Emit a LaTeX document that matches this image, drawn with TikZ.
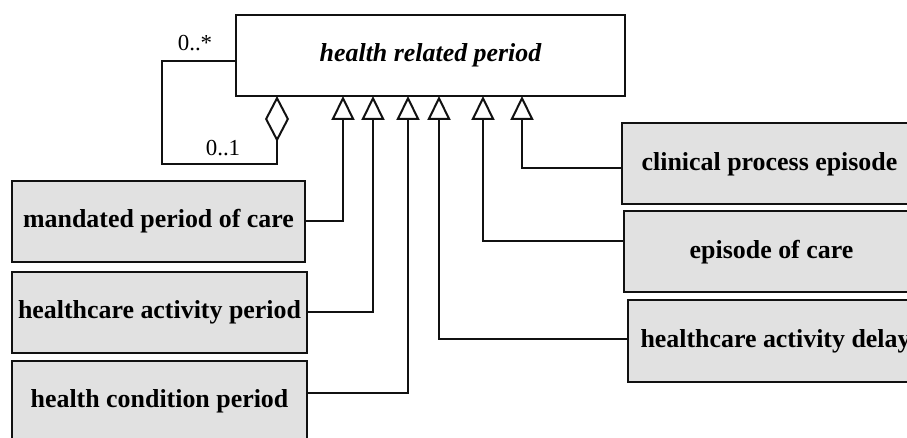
\documentclass[tikz,border=0pt]{standalone}
\usepackage{fontspec}
\setmainfont{Liberation Serif}
\usetikzlibrary{arrows.meta}
\definecolor{classBgColor}{HTML}{E1E1E1}
\definecolor{lineColor}{HTML}{111111}
\tikzset{
  classbox/.style={draw=lineColor, line width=2bp, fill=classBgColor,
    minimum width=295bp, minimum height=81bp, inner sep=0pt,
    font=\fontsize{26}{30}\selectfont\bfseries},
  gen/.style={draw=lineColor, line width=2bp,
    -{Triangle[open, length=24bp, width=23bp]}},
  agg/.style={draw=lineColor, line width=2bp,
    -{Diamond[open, length=46bp, width=24bp]}},
  mult/.style={font=\fontsize{23}{26}\selectfont, inner sep=0pt}
}

\begin{document}
\begin{tikzpicture}[x=1bp,y=-1bp]
\useasboundingbox (0,0) rectangle (907,438);
\clip (0,0) rectangle (907,438);

% parent class
\node[draw=lineColor, line width=2bp, fill=white, minimum width=389bp,
  minimum height=81bp, font=\fontsize{26}{30}\selectfont\bfseries\itshape]
  (period) at (430.5,55.5) {health related period};

% tips on the parent's lower edge
\coordinate (tipA) at (343,96);
\coordinate (tipB) at (373,96);
\coordinate (tipC) at (408,96);
\coordinate (tipD) at (439,96);
\coordinate (tipE) at (483,96);
\coordinate (tipF) at (522,96);
\coordinate (tipAgg) at (277,96);

% sub classes, left column
\node[classbox, minimum width=293bp] (mandated) at (158.5,221.5) {mandated period of care};
\node[classbox] (activity) at (159.5,312.5) {healthcare activity period};
\node[classbox] (condition) at (159.5,401.5) {health condition period};

% sub classes, right column
\node[classbox, anchor=west] (clinical) at (621,164) {clinical process episode};
\node[classbox, anchor=west] (episode) at (623,252) {episode of care};
\node[classbox, anchor=west] (delay) at (627,341) {healthcare activity delay};

% generalisations
\draw[gen] (mandated.east) -| (tipA);
\draw[gen] (activity.east) -| (tipB);
\draw[gen] ([yshift=8.5bp]condition.east) -| (tipC);
\draw[gen] ([yshift=2bp]delay.west) -| (tipD);
\draw[gen] ([yshift=11bp]episode.west) -| (tipE);
\draw[gen] ([yshift=-4bp]clinical.west) -| (tipF);

% self aggregation
\draw[agg] ([yshift=-5.5bp]period.west) -| (162,164) -| (tipAgg);
\node[mult] (manyEnd) at (195,43) {0..*};
\node[mult] (oneEnd) at (223,148) {0..1};

\end{tikzpicture}
\end{document}
